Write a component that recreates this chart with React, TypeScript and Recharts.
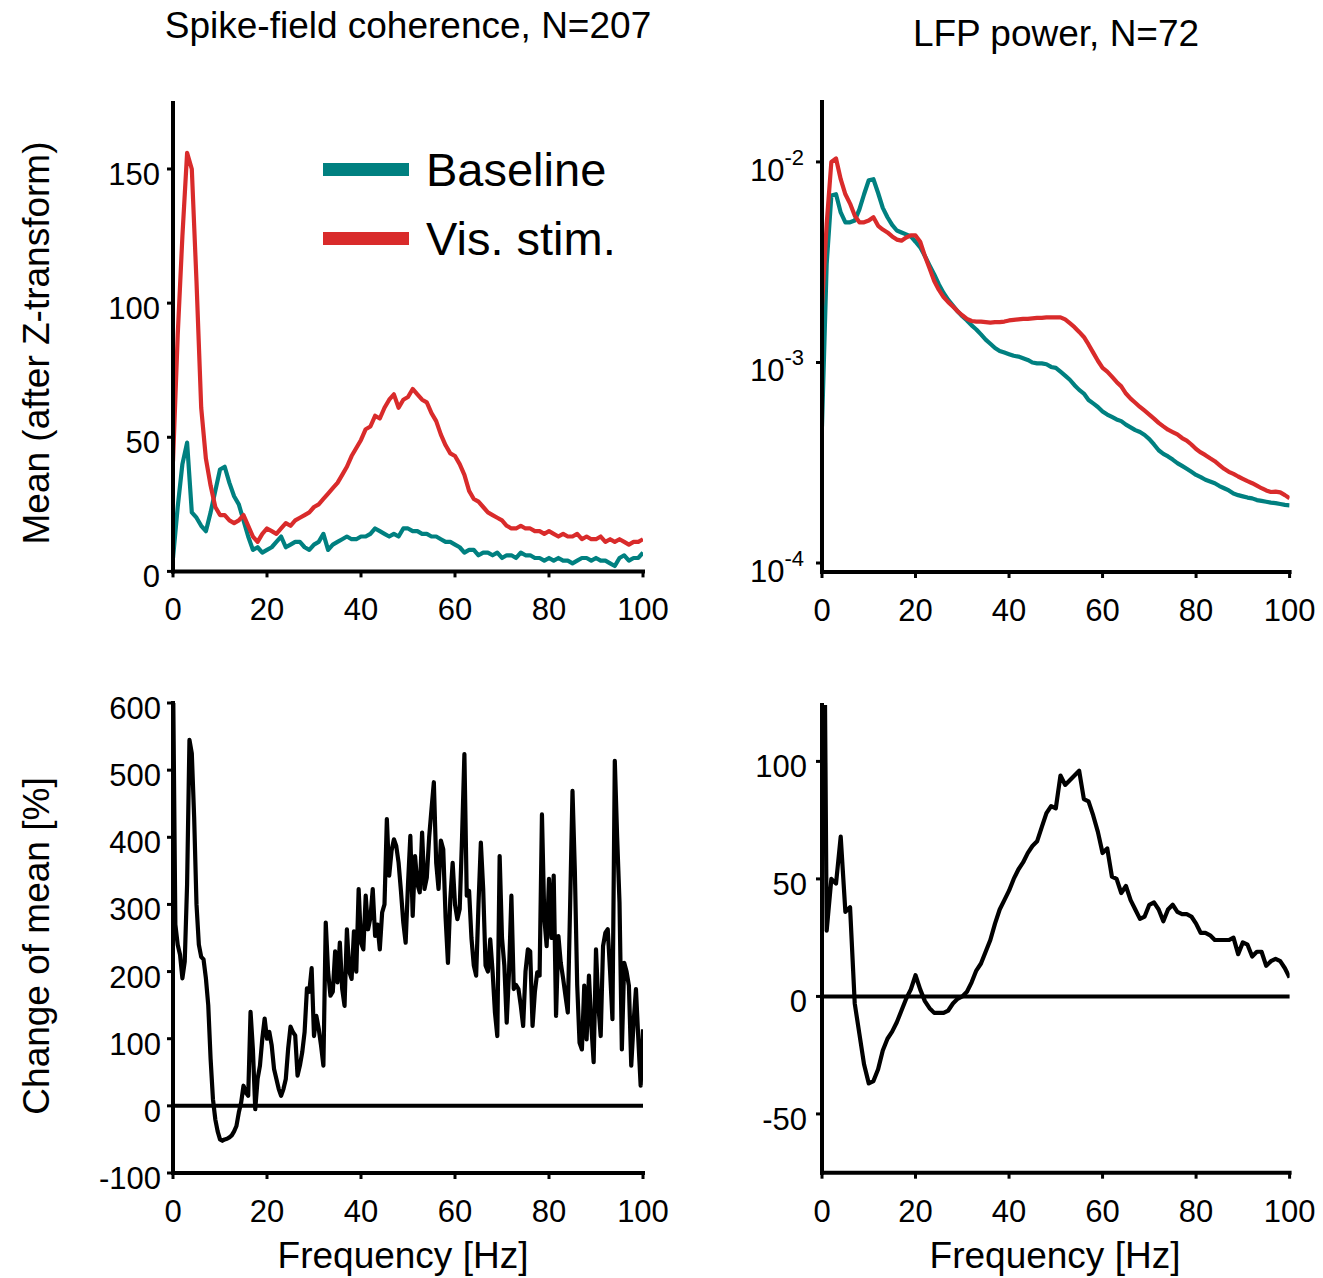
import React from 'react';
import { LineChart, Line, XAxis, YAxis, ReferenceLine, Legend } from 'recharts';

const FONT = '"Liberation Sans", Arial, Helvetica, sans-serif';
const TEAL = '#008080';
const RED = '#d92b2b';

// frequency grids (Hz)
const FREQ_1HZ = Array.from({ length: 101 }, (_, i) => i);
const FREQ_HALF_HZ = Array.from({ length: 201 }, (_, i) => i / 2);
const X_TICKS = [0, 20, 40, 60, 80, 100];

// Spike-field coherence, mean after Z-transform
const SFC_BASELINE = [
  5, 24, 40, 48, 22, 20, 17, 15, 22, 30,
  38, 39, 33, 28, 25, 19, 13, 8, 9, 7,
  8, 9, 11, 13, 9, 10, 11, 11, 9, 8,
  10, 11, 14, 8, 10, 11, 12, 13, 12, 12,
  13, 13, 14, 16, 15, 14, 13, 14, 13, 16,
  16, 15, 15, 14, 14, 13, 13, 12, 11, 11,
  10, 9, 7, 8, 8, 6, 7, 7, 6, 7,
  5, 6, 6, 5, 7, 6, 6, 5, 5, 4,
  5, 4, 5, 4, 4, 3, 4, 5, 5, 4,
  5, 4, 4, 3, 2, 5, 6, 4, 5, 5, 7,
];
const SFC_VISSTIM = [
  41, 88, 125, 156, 150, 108, 61, 42, 32, 24,
  21, 21, 19, 18, 19, 21, 17, 13, 11, 14,
  16, 15, 14, 16, 18, 17, 19, 20, 21, 22,
  24, 25, 27, 29, 31, 33, 36, 39, 43, 46,
  49, 53, 54, 58, 57, 61, 64, 66, 61, 64,
  65, 68, 66, 64, 63, 59, 56, 51, 47, 44,
  43, 40, 36, 30, 27, 26, 24, 22, 21, 20,
  19, 17, 16, 16, 17, 16, 16, 15, 15, 14,
  15, 14, 13, 14, 13, 13, 14, 12, 13, 12,
  12, 13, 11, 12, 11, 12, 11, 10, 11, 11, 12,
];

// LFP power
const LFP_BASELINE = [
  4.8e-4, 3.1e-3, 6.8e-3, 6.9e-3, 5.6e-3, 5.0e-3, 5.0e-3, 5.1e-3, 5.8e-3, 6.9e-3,
  8.1e-3, 8.2e-3, 7.0e-3, 5.9e-3, 5.3e-3, 4.85e-3, 4.55e-3, 4.45e-3, 4.35e-3, 4.25e-3,
  4.0e-3, 3.75e-3, 3.4e-3, 3.05e-3, 2.75e-3, 2.45e-3, 2.22e-3, 2.05e-3, 1.92e-3, 1.8e-3,
  1.7e-3, 1.62e-3, 1.53e-3, 1.46e-3, 1.38e-3, 1.3e-3, 1.24e-3, 1.18e-3, 1.14e-3, 1.12e-3,
  1.1e-3, 1.08e-3, 1.07e-3, 1.05e-3, 1.03e-3, 1.0e-3, 9.9e-4, 9.9e-4, 9.8e-4, 9.5e-4,
  9.4e-4, 9.0e-4, 8.6e-4, 8.2e-4, 7.7e-4, 7.3e-4, 7.0e-4, 6.5e-4, 6.25e-4, 6.0e-4,
  5.7e-4, 5.5e-4, 5.35e-4, 5.2e-4, 5.1e-4, 4.9e-4, 4.75e-4, 4.6e-4, 4.5e-4, 4.35e-4,
  4.15e-4, 3.9e-4, 3.65e-4, 3.5e-4, 3.4e-4, 3.28e-4, 3.15e-4, 3.05e-4, 2.95e-4, 2.85e-4,
  2.75e-4, 2.68e-4, 2.6e-4, 2.55e-4, 2.5e-4, 2.42e-4, 2.36e-4, 2.3e-4, 2.22e-4, 2.18e-4,
  2.15e-4, 2.12e-4, 2.1e-4, 2.06e-4, 2.04e-4, 2.02e-4, 2.0e-4, 1.99e-4, 1.97e-4, 1.95e-4, 1.94e-4,
];
const LFP_VISSTIM = [
  1.9e-3, 4.9e-3, 1.0e-2, 1.04e-2, 8.2e-3, 6.9e-3, 6.2e-3, 5.4e-3, 5.0e-3, 5.0e-3,
  5.1e-3, 5.3e-3, 4.8e-3, 4.6e-3, 4.45e-3, 4.25e-3, 4.1e-3, 4.05e-3, 4.2e-3, 4.3e-3,
  4.3e-3, 4.0e-3, 3.4e-3, 2.95e-3, 2.55e-3, 2.3e-3, 2.12e-3, 2.0e-3, 1.9e-3, 1.8e-3,
  1.72e-3, 1.65e-3, 1.61e-3, 1.6e-3, 1.6e-3, 1.59e-3, 1.58e-3, 1.59e-3, 1.59e-3, 1.6e-3,
  1.62e-3, 1.63e-3, 1.64e-3, 1.65e-3, 1.65e-3, 1.66e-3, 1.67e-3, 1.67e-3, 1.68e-3, 1.68e-3,
  1.68e-3, 1.68e-3, 1.64e-3, 1.57e-3, 1.5e-3, 1.42e-3, 1.34e-3, 1.23e-3, 1.12e-3, 1.02e-3,
  9.4e-4, 9.0e-4, 8.5e-4, 8.0e-4, 7.6e-4, 7.0e-4, 6.6e-4, 6.3e-4, 6.0e-4, 5.75e-4,
  5.5e-4, 5.25e-4, 5.0e-4, 4.8e-4, 4.62e-4, 4.5e-4, 4.38e-4, 4.2e-4, 4.08e-4, 3.9e-4,
  3.7e-4, 3.56e-4, 3.45e-4, 3.33e-4, 3.22e-4, 3.08e-4, 2.95e-4, 2.85e-4, 2.78e-4, 2.7e-4,
  2.63e-4, 2.56e-4, 2.5e-4, 2.43e-4, 2.36e-4, 2.3e-4, 2.26e-4, 2.27e-4, 2.25e-4, 2.18e-4, 2.1e-4,
];

// Change of mean [%], spike-field coherence (0.5 Hz grid)
const SFC_CHANGE = [
  650, 270, 240, 225, 190, 215, 330, 545, 525, 430,
  300, 240, 222, 218, 190, 150, 70, 10, -20, -38,
  -50, -52, -50, -49, -47, -44, -38, -30, -10, 5,
  30, 20, 15, 140, 84, -5, 40, 60, 100, 130,
  100, 110, 90, 55, 40, 25, 15, 25, 40, 85,
  118, 110, 105, 45, 60, 80, 110, 175, 170, 205,
  104, 134, 115, 90, 60, 273, 200, 164, 170, 230,
  184, 243, 174, 149, 263, 200, 189, 260, 200, 323,
  243, 233, 313, 263, 280, 323, 253, 270, 233, 288,
  300, 427, 343, 380, 397, 387, 362, 320, 273, 243,
  330, 402, 283, 372, 330, 318, 407, 323, 340, 400,
  442, 482, 362, 323, 395, 382, 280, 213, 308, 362,
  300, 278, 293, 400, 524, 313, 320, 250, 209, 194,
  300, 392, 323, 209, 200, 248, 200, 139, 104, 372,
  250, 209, 124, 200, 313, 174, 180, 174, 149, 119,
  200, 233, 230, 119, 170, 199, 194, 434, 280, 238,
  338, 250, 343, 134, 253, 213, 190, 164, 139, 300,
  469, 350, 180, 94, 84, 179, 99, 194, 120, 65,
  233, 150, 104, 238, 258, 263, 200, 129, 514, 400,
  303, 84, 213, 200, 179, 60, 124, 174, 100, 30,
  114,
];

// Change of mean [%], LFP power (1 Hz grid)
const LFP_CHANGE = [
  300, 28, 50, 48, 68, 36, 38, -3, -16, -29,
  -37, -36, -31, -23, -18, -15, -11, -6, -1, 3,
  9, 3, -2, -5, -7, -7, -7, -6, -3, -1,
  0, 2, 6, 11, 14, 19, 24, 31, 37, 41,
  45, 50, 54, 57, 61, 64, 66, 72, 78, 81,
  80, 94, 90, 92, 94, 96, 84, 83, 77, 70,
  61, 63, 51, 50, 44, 47, 41, 37, 33, 34,
  39, 40, 37, 32, 37, 39, 36, 35, 35, 34,
  31, 27, 27, 26, 24, 24, 24, 24, 25, 18,
  23, 22, 17, 19, 19, 13, 15, 16, 15, 12, 8,
];

const SFC_TICKS = [0, 50, 100, 150];
const LFP_TICKS = [1e-4, 1e-3, 1e-2];
const SFC_CHANGE_TICKS = [-100, 0, 100, 200, 300, 400, 500, 600];
const LFP_CHANGE_TICKS = [-50, 0, 50, 100];

const sfcRows = FREQ_1HZ.map((f, i) => ({ f, baseline: SFC_BASELINE[i], stim: SFC_VISSTIM[i] }));
const lfpRows = FREQ_1HZ.map((f, i) => ({ f, baseline: LFP_BASELINE[i], stim: LFP_VISSTIM[i] }));
const sfcChangeRows = FREQ_HALF_HZ.map((f, i) => ({ f, change: SFC_CHANGE[i] }));
const lfpChangeRows = FREQ_1HZ.map((f, i) => ({ f, change: LFP_CHANGE[i] }));

type Rect = { l: number; t: number; r: number; b: number };
const PAD = 24;
const PAD_R = 30;
const X_AXIS_H = 60;
const Y_AXIS_W = 100;

function frame(p: Rect) {
  return {
    left: p.l - Y_AXIS_W - PAD,
    top: p.t - PAD,
    width: p.r - p.l + Y_AXIS_W + PAD + PAD_R,
    height: p.b - p.t + X_AXIS_H + 2 * PAD,
    margin: { top: PAD, right: PAD_R, bottom: PAD, left: PAD },
  };
}

const TL: Rect = { l: 173.3, t: 103.3, r: 643.3, b: 571.7 };
const TR: Rect = { l: 821.7, t: 101.7, r: 1289.3, b: 571.7 };
const BL: Rect = { l: 173.3, t: 703.3, r: 643.3, b: 1173.3 };
const BR: Rect = { l: 821.7, t: 705, r: 1289.3, b: 1172.7 };

const axisLine = { stroke: '#000', strokeWidth: 4, strokeLinecap: 'square' as const };
const tickLine = { stroke: '#000', strokeWidth: 3 };

const renderXTick = (p: any) => (
  <text x={p.x} y={p.y + 41} textAnchor="middle" fontSize={31} fontFamily={FONT} fill="#000">
    {p.payload.value}
  </text>
);
const renderYTick = (p: any) => (
  <text x={p.x} y={p.y + 16} textAnchor="end" fontSize={31} fontFamily={FONT} fill="#000">
    {p.payload.value}
  </text>
);
const renderLogTick = (p: any) => {
  const exp = Math.round(Math.log10(p.payload.value));
  return (
    <text x={p.x} y={p.y + 19} textAnchor="end" fontSize={31} fontFamily={FONT} fill="#000">
      <tspan>10</tspan>
      <tspan dy={-16} fontSize={22}>{String(exp)}</tspan>
    </text>
  );
};

const xAxisEl = (
  <XAxis
    dataKey="f"
    type="number"
    domain={[0, 100]}
    ticks={X_TICKS}
    interval={0}
    allowDataOverflow
    height={X_AXIS_H}
    axisLine={axisLine}
    tickLine={tickLine}
    tickSize={6}
    tickMargin={2}
    tick={renderXTick}
  />
);

const LegendContent = (props: any) => (
  <div style={{ display: 'flex', flexDirection: 'column' }}>
    {(props.payload || []).map((e: any) => (
      <div key={e.value} style={{ display: 'flex', alignItems: 'center', height: 69 }}>
        <div style={{ width: 86, height: 13, background: e.color }} />
        <span
          style={{
            marginLeft: 17,
            fontSize: 47,
            fontFamily: FONT,
            color: '#000',
            whiteSpace: 'nowrap',
            lineHeight: 'normal',
          }}
        >
          {e.value}
        </span>
      </div>
    ))}
  </div>
);

function Box({ f, children }: { f: ReturnType<typeof frame>; children: React.ReactNode }) {
  return (
    <div style={{ position: 'absolute', left: f.left, top: f.top, width: f.width, height: f.height }}>
      {children}
    </div>
  );
}

const SERIES_W = 4.2;

export default function App() {
  const fTL = frame(TL);
  const fTR = frame(TR);
  const fBL = frame(BL);
  const fBR = frame(BR);
  const textStyle = { fontFamily: FONT, fill: '#000' };
  return (
    <div style={{ position: 'absolute', left: 0, top: 0, width: 1323, height: 1278, background: '#fff' }}>
      <svg width={1323} height={1278} style={{ position: 'absolute', left: 0, top: 0 }}>
        <text x={408} y={38} textAnchor="middle" fontSize={37} {...textStyle}>
          Spike-field coherence, N=207
        </text>
        <text x={1056} y={46} textAnchor="middle" fontSize={37} {...textStyle}>
          LFP power, N=72
        </text>
        <text transform="translate(49,343) rotate(-90)" textAnchor="middle" fontSize={37} {...textStyle}>
          Mean (after Z-transform)
        </text>
        <text transform="translate(49,946) rotate(-90)" textAnchor="middle" fontSize={37} {...textStyle}>
          Change of mean [%]
        </text>
        <text x={403} y={1268} textAnchor="middle" fontSize={37} {...textStyle}>
          Frequency [Hz]
        </text>
        <text x={1055} y={1268} textAnchor="middle" fontSize={37} {...textStyle}>
          Frequency [Hz]
        </text>
      </svg>

      <Box f={fTL}>
        <LineChart width={fTL.width} height={fTL.height} data={sfcRows} margin={fTL.margin}>
          {xAxisEl}
          <YAxis
            type="number"
            domain={[0, 174.6]}
            ticks={SFC_TICKS}
            interval={0}
            allowDataOverflow
            width={Y_AXIS_W}
            axisLine={axisLine}
            tickLine={tickLine}
            tickSize={6}
            tickMargin={7}
            tick={renderYTick}
          />
          <Line type="linear" dataKey="baseline" name="Baseline" stroke={TEAL} strokeWidth={SERIES_W} dot={false} isAnimationActive={false} strokeLinejoin="round" />
          <Line type="linear" dataKey="stim" name="Vis. stim." stroke={RED} strokeWidth={SERIES_W} dot={false} isAnimationActive={false} strokeLinejoin="round" />
          <Legend
            layout="vertical"
            align="center"
            verticalAlign="middle"
            content={LegendContent}
            wrapperStyle={{ left: 323 - fTL.left, top: 134.8 - fTL.top, width: 'auto' }}
          />
        </LineChart>
      </Box>

      <Box f={fTR}>
        <LineChart width={fTR.width} height={fTR.height} data={lfpRows} margin={fTR.margin}>
          {xAxisEl}
          <YAxis
            type="number"
            scale="log"
            domain={[9.02e-5, 0.0199]}
            ticks={LFP_TICKS}
            interval={0}
            allowDataOverflow
            width={Y_AXIS_W}
            axisLine={axisLine}
            tickLine={tickLine}
            tickSize={6}
            tickMargin={12}
            tick={renderLogTick}
          />
          <Line type="linear" dataKey="baseline" name="Baseline" stroke={TEAL} strokeWidth={SERIES_W} dot={false} isAnimationActive={false} strokeLinejoin="round" />
          <Line type="linear" dataKey="stim" name="Vis. stim." stroke={RED} strokeWidth={SERIES_W} dot={false} isAnimationActive={false} strokeLinejoin="round" />
        </LineChart>
      </Box>

      <Box f={fBL}>
        <LineChart width={fBL.width} height={fBL.height} data={sfcChangeRows} margin={fBL.margin}>
          {xAxisEl}
          <YAxis
            type="number"
            domain={[-100, 600]}
            ticks={SFC_CHANGE_TICKS}
            interval={0}
            allowDataOverflow
            width={Y_AXIS_W}
            axisLine={axisLine}
            tickLine={tickLine}
            tickSize={6}
            tickMargin={6}
            tick={renderYTick}
          />
          <ReferenceLine y={0} stroke="#000" strokeWidth={4} />
          <Line type="linear" dataKey="change" name="Change" stroke="#000" strokeWidth={SERIES_W} dot={false} isAnimationActive={false} strokeLinejoin="round" />
        </LineChart>
      </Box>

      <Box f={fBR}>
        <LineChart width={fBR.width} height={fBR.height} data={lfpChangeRows} margin={fBR.margin}>
          {xAxisEl}
          <YAxis
            type="number"
            domain={[-75, 124]}
            ticks={LFP_CHANGE_TICKS}
            interval={0}
            allowDataOverflow
            width={Y_AXIS_W}
            axisLine={axisLine}
            tickLine={tickLine}
            tickSize={6}
            tickMargin={9}
            tick={renderYTick}
          />
          <ReferenceLine y={0} stroke="#000" strokeWidth={4} />
          <Line type="linear" dataKey="change" name="Change" stroke="#000" strokeWidth={SERIES_W} dot={false} isAnimationActive={false} strokeLinejoin="round" />
        </LineChart>
      </Box>
    </div>
  );
}
